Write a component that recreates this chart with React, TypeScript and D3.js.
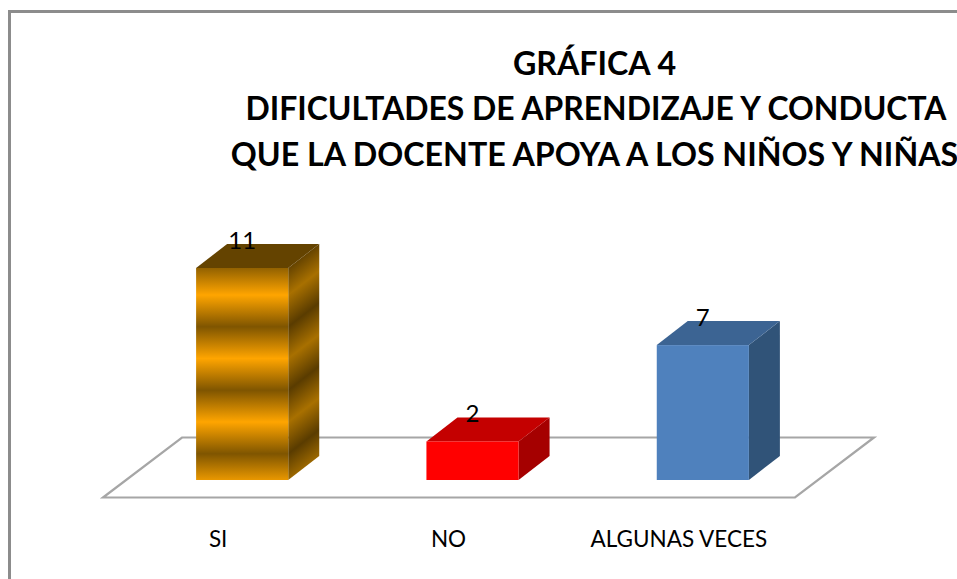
import React from 'react';
import * as d3 from 'd3';

const categories = ['SI', 'NO', 'ALGUNAS VECES'];
const values = [11, 2, 7];
const titleLines = ['GRÁFICA 4', 'DIFICULTADES DE APRENDIZAJE Y CONDUCTA', 'QUE LA DOCENTE APOYA A LOS NIÑOS Y NIÑAS'];
const titleBaselines = [75, 120, 166];
const titleCenters = [594.5, 596, 594.5];
const titleSizes = [32.2, 31.9, 32.2];

const FONT = 'Lato, "Open Sans", sans-serif';
const GRID = '#a6a6a6';
const DEPTH_X = 31;
const DEPTH_Y = 24;

const x = d3.scaleBand<string>().domain(categories).range([127, 818]).paddingInner(0.6).paddingOuter(0.3);
const y = d3.scaleLinear().domain([0, 11]).range([480, 268]);

const faces = [
  { front: 'url(#stripeFront)', side: 'url(#stripeSide)', top: '#644300' },
  { front: '#ff0000', side: '#a50000', top: '#c40000' },
  { front: '#4f81bd', side: '#305378', top: '#3c6493' },
];

const floorPts: [number, number][] = [[103, 497.5], [795, 497.5], [874, 437.5], [182, 437.5]];

export default function App() {
  const sideX = x('SI')! + x.bandwidth();
  const slope = DEPTH_Y / DEPTH_X;
  return (
    <svg width={957} height={579} style={{ position: 'absolute', left: 0, top: 0, background: '#fff' }} fontFamily={FONT}>
      <defs>
        <linearGradient id="stripeFront" gradientUnits="userSpaceOnUse" x1={0} x2={0} y1={295} y2={358.5} spreadMethod="repeat">
          <stop offset="0" stopColor="#ffa500" />
          <stop offset="0.5" stopColor="#7f5500" />
          <stop offset="1" stopColor="#ffa500" />
        </linearGradient>
        <linearGradient
          id="stripeSide"
          gradientUnits="userSpaceOnUse"
          x1={0}
          x2={0}
          y1={295}
          y2={358.5}
          spreadMethod="repeat"
          gradientTransform={`matrix(1,${-slope},0,1,0,${slope * sideX})`}
        >
          <stop offset="0" stopColor="#a87000" />
          <stop offset="0.5" stopColor="#5a3c00" />
          <stop offset="1" stopColor="#a87000" />
        </linearGradient>
      </defs>

      <path d="M9.5,600V11.5H970" fill="none" stroke="#8c8c8c" strokeWidth={3} />

      <path d={d3.line()(floorPts)! + 'Z'} fill="#fff" stroke={GRID} strokeWidth={2.2} />

      {categories.map((c, i) => {
        const x0 = x(c)!;
        const x1 = x0 + x.bandwidth();
        const yTop = y(values[i]);
        const yBase = y(0);
        const f = faces[i];
        return (
          <g key={c}>
            <path d={d3.line()([[x1, yTop], [x1 + DEPTH_X, yTop - DEPTH_Y], [x1 + DEPTH_X, yBase - DEPTH_Y], [x1, yBase]])! + 'Z'} fill={f.side} />
            <path d={d3.line()([[x0, yTop], [x0 + DEPTH_X, yTop - DEPTH_Y], [x1 + DEPTH_X, yTop - DEPTH_Y], [x1, yTop]])! + 'Z'} fill={f.top} />
            <rect x={x0} y={yTop} width={x.bandwidth()} height={yBase - yTop} fill={f.front} />
            <text x={(x0 + x1) / 2} y={yTop - 19} textAnchor="middle" fontSize={24} fill="#000">{values[i]}</text>
            <text x={(x0 + x1) / 2 - 24} y={547} textAnchor="middle" fontSize={22.5} fill="#000">{c}</text>
          </g>
        );
      })}

      {titleLines.map((t, i) => (
        <text key={t} x={titleCenters[i]} y={titleBaselines[i]} textAnchor="middle" fontSize={titleSizes[i]} fontWeight={700} fill="#000">{t}</text>
      ))}
    </svg>
  );
}
